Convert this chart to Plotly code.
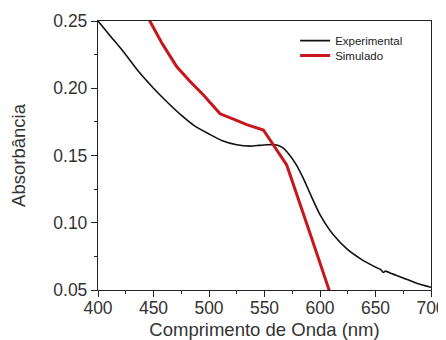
import plotly.graph_objects as go

exp_x = [400, 412, 425, 437, 450, 462, 475, 487, 500, 512, 525, 537, 545, 552, 560, 566, 572, 578, 585, 592, 600, 612, 625, 637, 650, 655, 657, 659, 665, 675, 687, 700]
exp_y = [0.250, 0.238, 0.225, 0.212, 0.200, 0.190, 0.180, 0.172, 0.166, 0.161, 0.158, 0.157, 0.1575, 0.158, 0.158, 0.156, 0.151, 0.144, 0.133, 0.120, 0.106, 0.091, 0.080, 0.073, 0.067, 0.065, 0.063, 0.064, 0.062, 0.059, 0.055, 0.052]

sim_x = [444, 458, 471, 483, 495, 510, 522, 534, 549, 558, 570, 589, 609]
sim_y = [0.254, 0.233, 0.216, 0.205, 0.195, 0.181, 0.177, 0.173, 0.169, 0.158, 0.143, 0.097, 0.048]

legend_font = dict(family="Liberation Sans, Arial", size=11.5, color="#222222")

fig = go.Figure()
fig.add_trace(go.Scatter(x=exp_x, y=exp_y, mode="lines", name="Experimental", legend="legend",
                         showlegend=True,
                         line=dict(color="#111111", width=1.6, shape="spline", smoothing=0.6)))
fig.add_trace(go.Scatter(x=sim_x, y=sim_y, mode="lines", name="Simulado", legend="legend2",
                         showlegend=True,
                         line=dict(color="#c8161d", width=3)))

axis_common = dict(showline=True, linecolor="#222222", linewidth=1.3, mirror=True,
                   ticks="outside", ticklen=6, tickwidth=1.2, tickcolor="#222222",
                   showgrid=False, zeroline=False, automargin=False,
                   tickfont=dict(family="Liberation Sans, Arial", size=17.5, color="#333333"))

fig.update_xaxes(range=[400, 700], tickvals=[400, 450, 500, 550, 600, 650, 700],
                 ticklabelstandoff=-4,
                 minor=dict(ticks="outside", ticklen=3, tickcolor="#222222", dtick=25, showgrid=False),
                 title=dict(text="Comprimento de Onda (nm)", standoff=15,
                            font=dict(family="Liberation Sans, Arial", size=18.5, color="#333333")),
                 **axis_common)
fig.update_yaxes(range=[0.05, 0.25], tickvals=[0.05, 0.10, 0.15, 0.20, 0.25], tickformat=".2f",
                 minor=dict(ticks="outside", ticklen=3, tickcolor="#222222", dtick=0.025, showgrid=False),
                 title=dict(text="Absorbância", standoff=22,
                            font=dict(family="Liberation Sans, Arial", size=18.5, color="#333333")),
                 **axis_common)

fig.update_layout(
    width=438, height=332, showlegend=True,
    margin=dict(l=90, r=15, t=13, b=50, autoexpand=False),
    plot_bgcolor="white", paper_bgcolor="white",
    legend=dict(x=0.592, y=0.981, xanchor="left", yanchor="top", visible=True,
                bgcolor="rgba(0,0,0,0)", font=legend_font, itemwidth=30),
    legend2=dict(x=0.592, y=0.9255, xanchor="left", yanchor="top", visible=True,
                 bgcolor="rgba(0,0,0,0)", font=legend_font, itemwidth=30),
)

fig.write_html("out.html")
